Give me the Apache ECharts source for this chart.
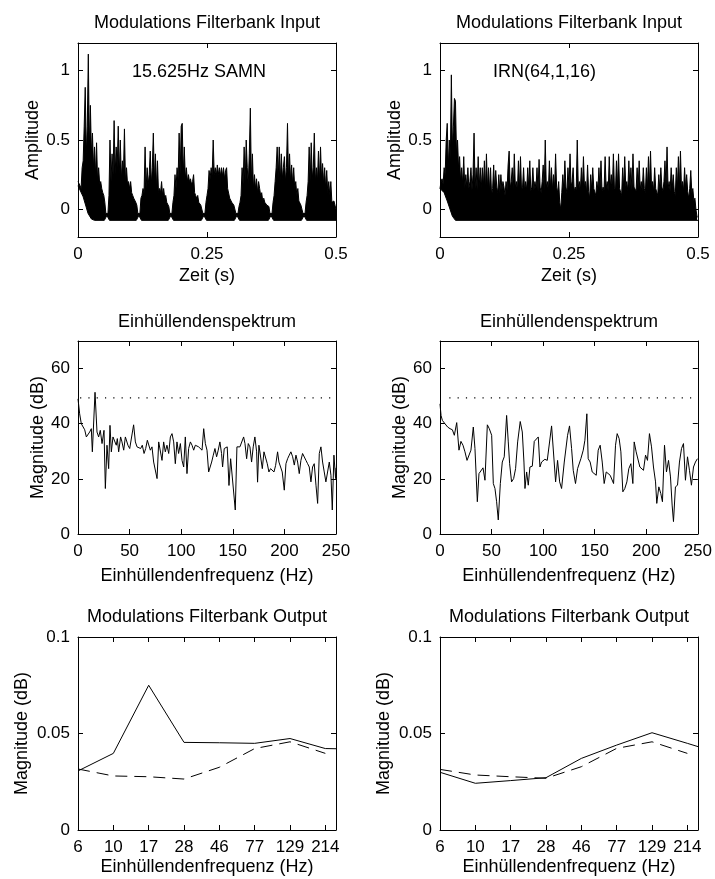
<!DOCTYPE html>
<html><head><meta charset="utf-8">
<script src="https://cdn.jsdelivr.net/npm/echarts@6/dist/echarts.min.js"></script>
<style>html,body{margin:0;padding:0;background:#fff}#c{width:715px;height:879px}</style>
</head><body><div id="c"></div>
<script>
// ---------- DATA ----------
// Modulation filterbank input: upper envelope of the waveform, one value every sampleStep seconds
const sampleStep = 0.002;
const samnUpper = [
 0.2,0.2,0.17,0.15,0.3,0.35,0.6,0.88,0.4,0.6,1.12,0.45,0.75,0.4,0.55,0.3,0.45,0.25,0.48,0.2,0.3,0.18,0.2,0.15,0.12,0.1,0.05,-0.03,-0.04,
 -0.03,0.1,0.5,0.2,0.4,0.25,0.64,0.25,0.45,0.3,0.6,0.25,0.5,0.22,0.35,0.25,0.58,0.2,0.3,0.18,0.2,0.15,0.2,0.12,0.1,0.08,0.08,0.05,0.03,-0.03,-0.04,
 -0.03,0.08,0.1,0.15,0.12,0.45,0.15,0.3,0.18,0.25,0.42,0.18,0.3,0.55,0.2,0.4,0.15,0.35,0.12,0.15,0.12,0.2,0.1,0.15,0.08,0.1,0.05,0.05,0.02,-0.03,-0.04,
 -0.03,0.05,0.1,0.25,0.15,0.3,0.22,0.55,0.25,0.6,0.62,0.25,0.45,0.22,0.3,0.2,0.25,0.2,0.22,0.18,0.2,0.25,0.12,0.1,0.08,0.1,0.05,0.05,0.03,0.02,-0.03,-0.04,
 -0.03,0.05,0.1,0.15,0.28,0.22,0.3,0.25,0.5,0.25,0.3,0.24,0.32,0.25,0.3,0.24,0.3,0.24,0.3,0.22,0.28,0.3,0.15,0.15,0.08,0.08,0.05,0.04,0.03,0.02,-0.03,-0.04,
 -0.03,0.02,0.05,0.1,0.3,0.18,0.45,0.2,0.5,0.3,0.18,0.4,0.73,0.2,0.4,0.15,0.25,0.15,0.22,0.12,0.2,0.15,0.1,0.12,0.06,0.08,0.05,0.05,0.03,0.03,0.02,-0.03,-0.04,
 -0.03,0.05,0.1,0.2,0.3,0.45,0.22,0.45,0.2,0.4,0.22,0.3,0.38,0.2,0.3,0.62,0.22,0.4,0.2,0.32,0.18,0.3,0.15,0.2,0.1,0.15,0.06,0.05,0.03,0.02,-0.03,-0.04,
 -0.03,0.05,0.1,0.2,0.45,0.2,0.48,0.22,0.3,0.55,0.2,0.3,0.2,0.42,0.2,0.45,0.22,0.33,0.18,0.3,0.15,0.28,0.12,0.2,0.1,0.2,0.05,0.05,0.06,0.03,0.0
];
const samnLower = [[0,0.17],[0.01,0.09],[0.0195,-0.03],[0.026,-0.07],[0.032,-0.08],
 [0.051,-0.08],[0.056,-0.045],[0.061,-0.08],[0.113,-0.08],[0.118,-0.045],[0.123,-0.08],
 [0.175,-0.08],[0.18,-0.045],[0.185,-0.08],[0.239,-0.08],[0.244,-0.045],[0.249,-0.08],
 [0.303,-0.08],[0.308,-0.045],[0.313,-0.08],[0.369,-0.08],[0.374,-0.045],[0.379,-0.08],
 [0.433,-0.08],[0.438,-0.045],[0.443,-0.08],[0.5,-0.08]];
const irnUpper = [
 0.15,0.2,0.22,0.18,0.3,0.25,0.5,0.62,0.3,0.5,
 0.35,0.97,0.45,0.6,0.8,0.78,0.4,0.5,0.3,0.38,
 0.2,0.3,0.18,0.38,0.15,0.25,0.16,0.3,0.15,0.2,
 0.3,0.14,0.25,0.55,0.15,0.3,0.14,0.38,0.16,0.3,
 0.15,0.3,0.16,0.35,0.14,0.4,0.15,0.3,0.13,0.3,
 0.1,0.15,0.32,0.14,0.28,0.16,0.12,0.25,0.12,0.25,
 0.14,0.2,0.16,0.1,0.2,0.14,0.32,0.42,0.15,0.2,
 0.3,0.14,0.4,0.16,0.2,0.13,0.35,0.15,0.38,0.14,
 0.16,0.3,0.13,0.2,0.14,0.3,0.15,0.35,0.13,0.16,
 0.3,0.14,0.2,0.15,0.3,0.13,0.36,0.16,0.12,0.2,
 0.32,0.14,0.5,0.16,0.2,0.13,0.35,0.15,0.3,0.14,
 0.25,0.15,0.4,0.16,0.12,0.2,0.05,0.0,0.12,0.25,
 0.14,0.35,0.16,0.12,0.3,0.15,0.4,0.16,0.2,0.3,
 0.13,0.16,0.14,0.5,0.16,0.2,0.13,0.3,0.15,0.38,
 0.16,0.2,0.12,0.32,0.13,0.08,0.25,0.14,0.3,0.15,
 0.16,0.1,0.2,0.14,0.3,0.15,0.35,0.13,0.16,0.14,
 0.38,0.15,0.2,0.13,0.38,0.16,0.25,0.14,0.4,0.16,
 0.13,0.35,0.16,0.4,0.15,0.16,0.1,0.3,0.15,0.38,
 0.16,0.2,0.13,0.35,0.15,0.3,0.14,0.4,0.16,0.16,
 0.13,0.3,0.15,0.35,0.14,0.2,0.13,0.3,0.15,0.12,
 0.3,0.15,0.38,0.16,0.42,0.15,0.2,0.13,0.3,0.15,
 0.16,0.1,0.25,0.14,0.3,0.16,0.13,0.2,0.35,0.16,
 0.45,0.15,0.2,0.13,0.3,0.15,0.25,0.13,0.1,0.3,
 0.15,0.38,0.16,0.42,0.15,0.2,0.13,0.3,0.15,0.25,
 0.13,0.08,0.15,0.28,0.12,0.15,0.06,0.08,0.0,-0.05,
 -0.06
];
const irnLower = [[0,0.15],[0.008,0.12],[0.014,0.06],[0.024,-0.05],[0.03,-0.08],[0.5,-0.08]];
const timeTicks = [0, 0.25, 0.5];
const ampTicks = [0, 0.5, 1];

// Envelope spectra [Hz, dB]
const specL = [[0,49],[1.6,43.6],[3.2,40],[4.8,39.4],[6.5,37.8],[8.1,35.2],[9.7,35.2],[11.3,37],[12.9,38.2],[13.9,29.8],[16.5,51.4],[18.4,37],[20,35.2],[21.6,37.6],[23.3,32.8],[25.2,37.6],[26.5,16.5],[28.1,32.2],[29.7,23.7],[31,39.4],[32.3,29.8],[33.9,35.2],[35.5,35.2],[37.1,32.2],[38.1,34.6],[39.4,29.8],[41.3,35.2],[42.6,33.4],[44.3,30.4],[45.9,35.2],[47.2,35.8],[48.4,32.2],[50.1,31],[51.7,31],[53.9,39.6],[55.6,33.4],[57.2,31.6],[58.8,31.6],[60.7,31],[62.3,32.2],[64,29.2],[65.6,31],[67.2,34],[68.5,34.6],[70.1,30.4],[71.7,31.6],[73.3,26.1],[74.9,25.5],[76.6,20.1],[78.2,33.4],[79.8,33.4],[81.4,26.7],[83,33.4],[84.6,29.8],[86.2,32.2],[87.9,29.2],[89.5,35.2],[91.1,36.4],[92.7,33.4],[94.3,25.5],[95.9,33.4],[97.5,29.2],[99.2,32.8],[100.8,26.7],[102.4,24.3],[104,35.2],[105.6,21.9],[107.2,31],[108.9,33.4],[110.5,32.2],[112.1,30.4],[113.7,32.2],[115.3,32.8],[116.9,31.6],[118.5,31],[120.2,30.4],[121.8,38.2],[123.4,32.8],[125,30.4],[126.6,22.5],[129.5,26.1],[131.1,28.6],[132.7,31],[134.3,28],[135.9,30.4],[137.5,33.4],[139.1,29.2],[140.1,24.3],[141.7,31],[143,30.4],[144.6,31.6],[146.3,17.6],[147.9,27.3],[149.5,26.7],[152.4,8.7],[154,31.6],[155.3,31],[156.9,31.6],[158.5,32.2],[160.5,35.2],[161.8,32.8],[163.4,27.3],[165,32.8],[166.6,31.6],[168.2,26.1],[169.8,31.6],[171.4,35.2],[173.1,29.8],[174,18.8],[175.3,32.2],[176.9,32.8],[178.6,23.7],[180.2,29.8],[181.8,29.8],[183.4,25.5],[185,22.5],[186.6,23.7],[188.2,23.1],[189.9,22.5],[191.5,24.9],[193.4,29.8],[194.7,26.1],[196.3,24.3],[197.9,22.5],[199.9,15.9],[201.5,25.5],[203.1,27.3],[204.7,28.6],[206.3,29.8],[208,28],[209.6,25],[211.2,28.6],[212.8,26.1],[214.4,21.9],[216,26.7],[217.6,29.2],[219.3,28.6],[220.9,26.7],[222.5,25.5],[224.1,24.3],[225.7,18.9],[227.3,24.3],[228.9,25.5],[230.6,17.7],[232.2,11.1],[233.8,29.2],[235.4,31.6],[237,26.1],[238.6,22.5],[240.2,18.9],[241.9,18.9],[243.5,26.1],[245.1,21.3],[246.4,8.7],[248,28.6],[249.6,20.1],[250,24]];
const specR = [[0,47.2],[1,43],[2.3,41.2],[4.8,40],[7.4,38.8],[9.7,38.2],[12,37.8],[13.9,35.8],[16.2,40.4],[18.4,30.4],[20.3,33.6],[22.3,32.2],[24.2,29.8],[26.2,26.7],[28.1,26.1],[30,30.4],[32.3,38.8],[33.9,31],[36.2,11.7],[37.8,21.9],[39.7,21.3],[41.7,24],[43.6,19.5],[45.9,39.6],[47.8,38.2],[50.1,35.8],[51.7,18.3],[53.3,16.5],[54.9,11.7],[56.5,5.1],[58.5,18.3],[60.4,26.1],[62.3,28],[64.6,43],[66.2,33.4],[67.5,25.5],[69.4,18.9],[71.4,20.1],[73.3,23.7],[75.3,33.4],[77.8,40.8],[79.8,37],[81.4,26.1],[82.4,16.5],[84,22.5],[85.6,17.7],[87.2,24.3],[89.5,24.6],[91.4,33.6],[93,33.4],[95.3,35.2],[96.9,24.3],[98.5,26.1],[100.1,26.7],[101.7,27.1],[104,26.7],[105.9,26.7],[108.2,39.2],[110.1,39.2],[112.1,18.9],[114,26.7],[116,18.9],[117.9,16.5],[120.5,26.1],[123.7,35.8],[125.6,39.2],[127.6,31],[129.2,23.1],[131.4,18.3],[133.4,23.7],[135,23.1],[136.6,27.3],[138.9,30.4],[140.5,34],[142.4,43.6],[143.7,27.3],[145.6,26.1],[147.6,22.5],[149.5,22.5],[151.5,21.3],[153.4,30.4],[155.3,32.2],[157.3,26.1],[159.2,18.3],[161.2,22.5],[163.1,22.5],[165,21.3],[166.3,21.3],[168.3,18.3],[170.2,32.2],[171.8,36.4],[173.7,34.6],[175.4,29.8],[177.3,15.3],[179.2,16.5],[181.2,18.9],[183.1,23.7],[185.1,25.5],[187,18.3],[188.3,33.4],[190.2,29.8],[191.8,30.4],[193.8,24.3],[195.7,23.7],[197.3,23.1],[199.3,28.6],[201.2,26.7],[203.1,36.4],[205.1,31.6],[207,24.3],[209,18.9],[210.2,11.1],[212.2,17.1],[214.1,14.7],[215.7,11.7],[217.7,32.2],[219.6,22.5],[221.6,26.7],[223.5,20.7],[225.1,10.5],[226.4,4.5],[228.3,17.1],[230.3,17.7],[232.2,26.1],[234.2,31],[236.1,32.8],[238,19.5],[240,28],[241.9,23.1],[243.8,17.7],[245.8,24.3],[247.7,26.1],[249.6,27.3]];
const refLevel = 49.4;
const refStartL = 2;
const refStartR = 9;
const freqMax = 250;
const freqTicks = [0, 50, 100, 150, 200, 250];
const dbTicks = [0, 20, 40, 60];

// Modulation filterbank output
const mfbCentres = [6, 10, 16.67, 27.78, 46.3, 77.16, 128.6, 214.3];
const mfbLabels = ['6', '10', '17', '28', '46', '77', '129', '214'];
const mfbEdge = 250;
const mfbSamn = [0.0306, 0.0397, 0.0750, 0.0454, 0.0452, 0.0449, 0.0474, 0.0422];
const mfbSamnEdge = 0.0421;
const mfbIrn = [0.0299, 0.0242, 0.0256, 0.0271, 0.0371, 0.0440, 0.0504, 0.0449];
const mfbIrnEdge = 0.0432;
const mfbRefL = [0.0316, 0.0280, 0.0276, 0.0264, 0.0325, 0.0422, 0.0457, 0.0397];
const mfbRefR = [0.0314, 0.0285, 0.0276, 0.0268, 0.0328, 0.0423, 0.0457, 0.0397];
const mfbTicks = [0, 0.05, 0.1];

// ---------- LAYOUT ----------
const FONT = "'Liberation Sans', Arial, Helvetica, sans-serif";
const boxes = [
  {left: 78, top: 43, width: 258, height: 194},
  {left: 440, top: 43, width: 258, height: 194},
  {left: 78, top: 341, width: 258, height: 193},
  {left: 440, top: 341, width: 258, height: 193},
  {left: 78, top: 637, width: 258, height: 193},
  {left: 440, top: 637, width: 258, height: 193}
];
const black = '#000';
const lineAx = {show: true, onZero: false, lineStyle: {color: black, width: 1}};

function xAxes(g, min, max, ticks, fmt, name, nameGap) {
  return [{
    type: 'value', gridIndex: g, position: 'bottom', min, max, z: 10,
    axisLine: lineAx,
    axisTick: {show: true, inside: true, length: 5, customValues: ticks, lineStyle: {color: black, width: 1}},
    axisLabel: {show: true, customValues: ticks, formatter: fmt, margin: 9, color: black, fontSize: 17, fontFamily: FONT},
    splitLine: {show: false},
    name, nameLocation: 'middle', nameGap,
    nameTextStyle: {color: black, fontSize: 18, fontFamily: FONT}
  }, {
    type: 'value', gridIndex: g, position: 'top', min, max, z: 10,
    axisLine: lineAx,
    axisTick: {show: true, inside: true, length: 5, customValues: ticks, lineStyle: {color: black, width: 1}},
    axisLabel: {show: false}, splitLine: {show: false}
  }];
}
function yAxes(g, min, max, ticks, fmt, name, nameGap) {
  return [{
    type: 'value', gridIndex: g, position: 'left', min, max, z: 10,
    axisLine: lineAx,
    axisTick: {show: true, inside: true, length: 5, customValues: ticks, lineStyle: {color: black, width: 1}},
    axisLabel: {show: true, customValues: ticks, formatter: fmt, margin: 8, color: black, fontSize: 17, fontFamily: FONT},
    splitLine: {show: false},
    name, nameLocation: 'middle', nameGap,
    nameTextStyle: {color: black, fontSize: 18, fontFamily: FONT}
  }, {
    type: 'value', gridIndex: g, position: 'right', min, max, z: 10,
    axisLine: lineAx,
    axisTick: {show: true, inside: true, length: 5, customValues: ticks, lineStyle: {color: black, width: 1}},
    axisLabel: {show: false}, splitLine: {show: false}
  }];
}
const plain = v => String(+v.toFixed(4));
const logMin = Math.log10(mfbCentres[0]);
const logMax = Math.log10(mfbEdge);
const mfbTickPos = mfbCentres.map(f => Math.log10(f));
const mfbFmt = v => {
  let best = 0;
  mfbTickPos.forEach((p, i) => { if (Math.abs(p - v) < Math.abs(mfbTickPos[best] - v)) best = i; });
  return mfbLabels[best];
};

const xAxis = [].concat(
  xAxes(0, 0, 0.5, timeTicks, plain, 'Zeit (s)', 30),
  xAxes(1, 0, 0.5, timeTicks, plain, 'Zeit (s)', 30),
  xAxes(2, 0, freqMax, freqTicks, plain, 'Einhüllendenfrequenz (Hz)', 33),
  xAxes(3, 0, freqMax, freqTicks, plain, 'Einhüllendenfrequenz (Hz)', 33),
  xAxes(4, logMin, logMax, mfbTickPos, mfbFmt, 'Einhüllendenfrequenz (Hz)', 28),
  xAxes(5, logMin, logMax, mfbTickPos, mfbFmt, 'Einhüllendenfrequenz (Hz)', 28)
);
const yAxis = [].concat(
  yAxes(0, -0.2, 1.2, ampTicks, plain, 'Amplitude', 36),
  yAxes(1, -0.2, 1.2, ampTicks, plain, 'Amplitude', 35),
  yAxes(2, 0, 70, dbTicks, plain, 'Magnitude (dB)', 29),
  yAxes(3, 0, 70, dbTicks, plain, 'Magnitude (dB)', 31),
  yAxes(4, 0, 0.1, mfbTicks, plain, 'Magnitude (dB)', 47),
  yAxes(5, 0, 0.1, mfbTicks, plain, 'Magnitude (dB)', 47)
);

function wave(g, upper, lower) {
  return [{
    type: 'line', xAxisIndex: 2 * g, yAxisIndex: 2 * g, z: 2,
    data: upper.map((v, i) => [i * sampleStep, v]),
    symbol: 'none', lineStyle: {color: black, width: 1},
    areaStyle: {color: black, opacity: 1, origin: 'start'}
  }, {
    type: 'line', xAxisIndex: 2 * g, yAxisIndex: 2 * g, z: 3,
    data: lower, symbol: 'none', lineStyle: {color: black, width: 1},
    areaStyle: {color: '#fff', opacity: 1, origin: 'start'}
  }];
}
function spectrum(g, data, refStart) {
  return [{
    type: 'line', xAxisIndex: 2 * g, yAxisIndex: 2 * g, data,
    symbol: 'none', lineStyle: {color: black, width: 1}
  }, {
    type: 'line', xAxisIndex: 2 * g, yAxisIndex: 2 * g,
    data: [[refStart, refLevel], [freqMax, refLevel]],
    symbol: 'none', lineStyle: {color: black, width: 1.2, type: [1.2, 7.1]}
  }];
}
function mfb(g, solid, solidEdge, dashed) {
  return [{
    type: 'line', xAxisIndex: 2 * g, yAxisIndex: 2 * g,
    data: mfbCentres.map((f, i) => [Math.log10(f), solid[i]]).concat([[Math.log10(mfbEdge), solidEdge]]),
    symbol: 'none', lineStyle: {color: black, width: 1}
  }, {
    type: 'line', xAxisIndex: 2 * g, yAxisIndex: 2 * g,
    data: mfbCentres.map((f, i) => [Math.log10(f), dashed[i]]),
    symbol: 'none', lineStyle: {color: black, width: 1, type: [12, 7]}
  }];
}

const series = [].concat(
  wave(0, samnUpper, samnLower),
  wave(1, irnUpper, irnLower),
  spectrum(2, specL, refStartL),
  spectrum(3, specR, refStartR),
  mfb(4, mfbSamn, mfbSamnEdge, mfbRefL),
  mfb(5, mfbIrn, mfbIrnEdge, mfbRefR)
);

function txt(text, x, y, align) {
  return {type: 'text', x, y, z: 20,
    style: {text, fill: black, font: '18px ' + FONT, textAlign: align || 'center', textVerticalAlign: 'middle'}};
}
const graphic = [
  txt('Modulations Filterbank Input', 207, 23),
  txt('Modulations Filterbank Input', 569, 23),
  txt('Einhüllendenspektrum', 207, 322),
  txt('Einhüllendenspektrum', 569, 322),
  txt('Modulations Filterbank Output', 207, 617),
  txt('Modulations Filterbank Output', 569, 617),
  txt('15.625Hz SAMN', 132, 72, 'left'),
  txt('IRN(64,1,16)', 493, 72, 'left')
];

const chart = echarts.init(document.getElementById('c'), null, {renderer: 'canvas'});
chart.setOption({
  animation: false,
  backgroundColor: '#fff',
  grid: boxes.map(b => Object.assign({show: false, containLabel: false}, b)),
  xAxis, yAxis, series, graphic
});
</script></body></html>
